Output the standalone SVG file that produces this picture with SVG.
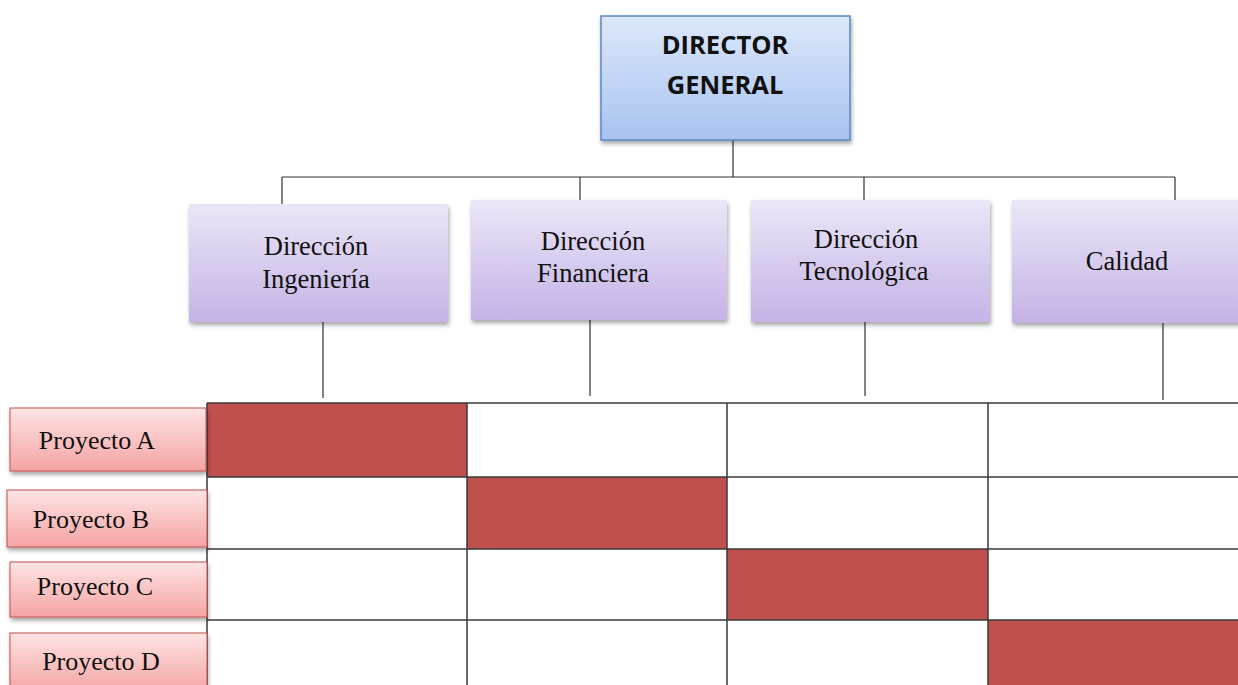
<svg xmlns="http://www.w3.org/2000/svg" width="1238" height="685" viewBox="0 0 1238 685">
<defs>
<linearGradient id="gBlue" x1="0" y1="0" x2="0" y2="1"><stop offset="0" stop-color="#dde8fb"/><stop offset="1" stop-color="#a8c3f0"/></linearGradient>
<linearGradient id="gPurple" x1="0" y1="0" x2="0" y2="1"><stop offset="0" stop-color="#ebe6f7"/><stop offset="1" stop-color="#c4b3e6"/></linearGradient>
<linearGradient id="gPink" x1="0" y1="0" x2="0" y2="1"><stop offset="0" stop-color="#fde4e4"/><stop offset="1" stop-color="#f5a3a3"/></linearGradient>
<filter id="sh" x="-10%" y="-10%" width="130%" height="140%"><feDropShadow dx="1" dy="3" stdDeviation="2" flood-color="#000" flood-opacity="0.35"/></filter>
<style>
.dir{fill:url(#gPurple);filter:url(#sh)}
.proj{fill:url(#gPink);stroke:#c0504d;stroke-width:1;filter:url(#sh)}
.c{fill:none;stroke:#333;stroke-width:1.2}
.g{fill:none;stroke:#3a3a3a;stroke-width:1.5}
.red{fill:#c0504d}
</style>
</defs>
<rect width="1238" height="685" fill="#fff"/>
<g id="connectors">
<path class="c" d="M733 140V177M282 177H1175M282 177V204M580 177V201M864 177V200M1175 177V201"/>
<path class="c" d="M323 322V398M590 320V396M865 320V396M1163 323V400"/>
</g>
<g id="director-general">
<rect x="601" y="16" width="249" height="124" fill="url(#gBlue)" stroke="#5b86c3" stroke-width="1.5" filter="url(#sh)"/>
<text x="725" y="54" text-anchor="middle" font-family="Open Sans, Liberation Sans, sans-serif" font-weight="bold" font-size="25.5" fill="#111">DIRECTOR</text>
<text x="725" y="94" text-anchor="middle" font-family="Open Sans, Liberation Sans, sans-serif" font-weight="bold" font-size="25.5" fill="#111">GENERAL</text>
</g>
<g font-family="Liberation Serif, Times New Roman, serif" font-size="26.5" fill="#111" text-anchor="middle">
<g id="dir-ingenieria">
<rect class="dir" x="189" y="204" width="259" height="118"/>
<text x="316" y="255">Dirección</text>
<text x="316" y="288">Ingeniería</text>
</g>
<g id="dir-financiera">
<rect class="dir" x="471" y="200" width="256" height="120"/>
<text x="593" y="250">Dirección</text>
<text x="593" y="282">Financiera</text>
</g>
<g id="dir-tecnologica">
<rect class="dir" x="751" y="200" width="239" height="122"/>
<text x="866" y="248">Dirección</text>
<text x="864" y="280">Tecnológica</text>
</g>
<g id="calidad">
<rect class="dir" x="1012" y="200" width="240" height="123"/>
<text x="1127" y="270">Calidad</text>
</g>
</g>
<g id="matrix">
<rect class="red" x="207" y="403" width="260" height="74"/>
<rect class="red" x="467" y="477" width="260" height="72"/>
<rect class="red" x="727" y="549" width="261" height="71"/>
<rect class="red" x="988" y="620" width="250" height="65"/>
<path class="g" d="M207 403H1238M207 477H1238M207 549H1238M207 620H1238M207 403V685M467 403V685M727 403V685M988 403V685"/>
</g>
<g font-family="Liberation Serif, Times New Roman, serif" font-size="26" fill="#111" text-anchor="middle">
<g id="proyecto-a">
<rect class="proj" x="10" y="408" width="196" height="63"/>
<text x="97" y="449">Proyecto A</text>
</g>
<g id="proyecto-b">
<rect class="proj" x="7" y="490" width="200" height="57"/>
<text x="91" y="528">Proyecto B</text>
</g>
<g id="proyecto-c">
<rect class="proj" x="10" y="562" width="197" height="55"/>
<text x="95" y="595">Proyecto C</text>
</g>
<g id="proyecto-d">
<rect class="proj" x="10" y="633" width="197" height="60"/>
<text x="101" y="670">Proyecto D</text>
</g>
</g>
</svg>
